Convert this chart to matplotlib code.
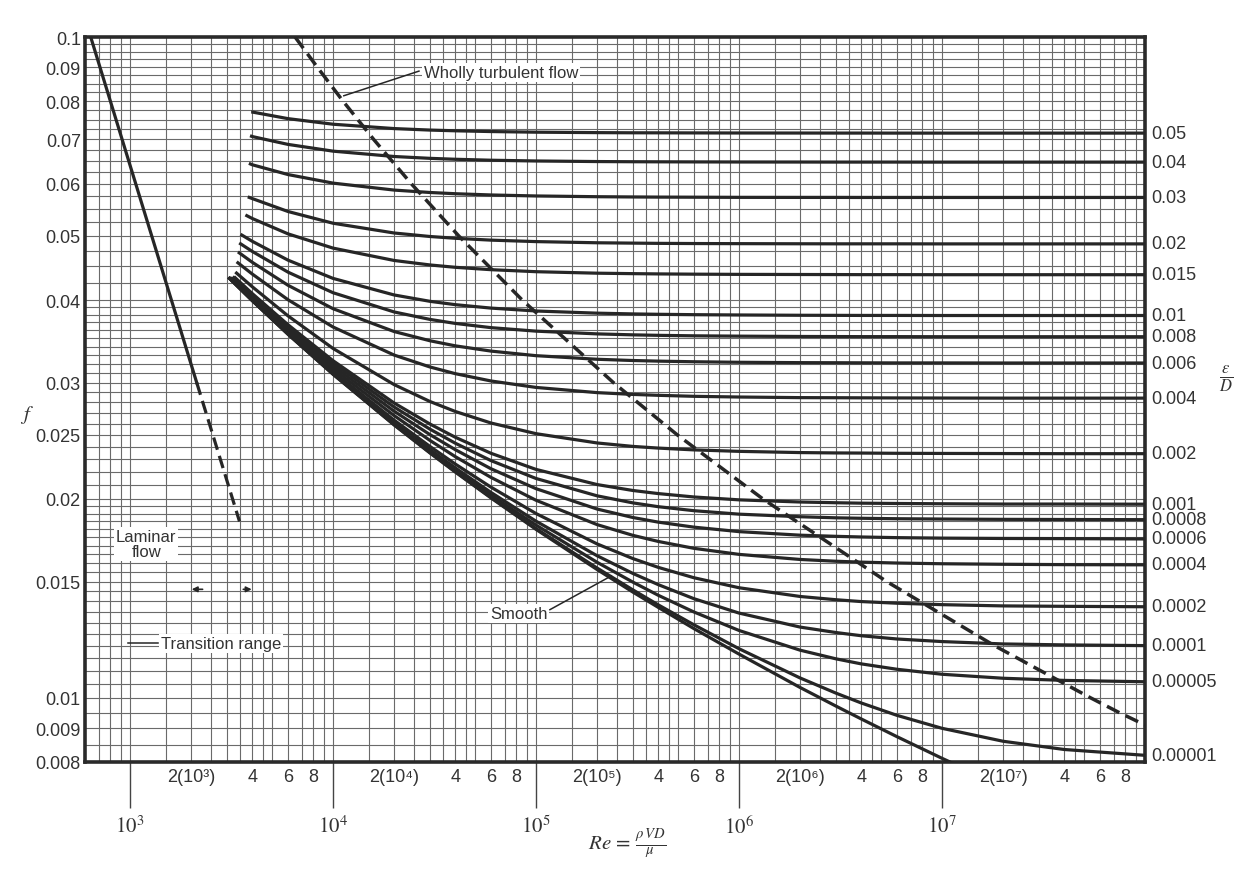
import matplotlib
matplotlib.use("Agg")
import matplotlib.pyplot as plt
import matplotlib.transforms as mtransforms
from matplotlib.ticker import FixedLocator, FixedFormatter, NullLocator

plt.rcParams['font.family'] = ['Liberation Sans', 'DejaVu Sans']
plt.rcParams['mathtext.fontset'] = 'stix'

# ----------------------------------------
# Values
# ----------------------------------------
rough_labels = ['0.05', '0.04', '0.03', '0.02', '0.015', '0.01', '0.008', '0.006',
                '0.004', '0.002', '0.001', '0.0008', '0.0006', '0.0004', '0.0002',
                '0.0001', '0.00005', '0.00001', 'smooth']

# where each curve starts (left end)
re_start = [3950, 3900, 3850, 3800, 3700, 3500, 3450, 3400, 3350, 3300, 3250,
            3200, 3200, 3150, 3100, 3100, 3050, 3050, 3050]
f_start = [0.0770, 0.0709, 0.0644, 0.0573, 0.0538, 0.0503, 0.0488, 0.0473, 0.0457,
           0.0441, 0.0434, 0.0434, 0.0432, 0.0432, 0.0433, 0.0432, 0.0433, 0.0433, 0.0433]

re_grid = [4e3, 6e3, 1e4, 2e4, 3e4, 4e4, 6e4, 1e5, 2e5, 3e5, 4e5, 6e5,
           1e6, 2e6, 3e6, 4e6, 6e6, 1e7, 2e7, 4e7, 1e8]

f_0_05 = [0.0770, 0.07525, 0.0738, 0.07269, 0.07231, 0.07213, 0.07194, 0.07178, 0.07167, 0.07163, 0.07162,
          0.0716, 0.07158, 0.07157, 0.07156, 0.07156, 0.07155, 0.07155, 0.07155, 0.07155, 0.07155]
f_0_04 = [0.0707, 0.06879, 0.06719, 0.06595, 0.06553, 0.06532, 0.0651, 0.06493, 0.0648, 0.06476, 0.06474,
          0.06472, 0.0647, 0.06469, 0.06468, 0.06468, 0.06468, 0.06467, 0.06467, 0.06467, 0.06467]
f_0_03 = [0.06408, 0.06193, 0.06011, 0.05867, 0.05818, 0.05793, 0.05768, 0.05748, 0.05733, 0.05728, 0.05725,
          0.05723, 0.0572, 0.05719, 0.05719, 0.05718, 0.05718, 0.05718, 0.05718, 0.05718, 0.05718]
f_0_02 = [0.05696, 0.05445, 0.05227, 0.05052, 0.04991, 0.0496, 0.04928, 0.04903, 0.04883, 0.04877, 0.04873,
          0.0487, 0.04868, 0.04866, 0.04865, 0.04865, 0.04865, 0.04864, 0.04864, 0.04864, 0.04864]
f_0_015 = [0.05314, 0.05037, 0.04793, 0.04591, 0.0452, 0.04483, 0.04446, 0.04415, 0.04392, 0.04385, 0.04381,
           0.04377, 0.04374, 0.04372, 0.04371, 0.0437, 0.0437, 0.04369, 0.04369, 0.04369, 0.04369]
f_0_01 = [0.04908, 0.04596, 0.04313, 0.04071, 0.03982, 0.03936, 0.03889, 0.0385, 0.03821, 0.03811, 0.03806,
          0.03801, 0.03797, 0.03793, 0.03792, 0.03791, 0.03791, 0.0379, 0.0379, 0.0379, 0.0379]
f_0_008 = [0.04738, 0.04408, 0.04103, 0.03837, 0.03739, 0.03687, 0.03633, 0.03589, 0.03555, 0.03543, 0.03537,
           0.03531, 0.03527, 0.03523, 0.03522, 0.03521, 0.03521, 0.0352, 0.0352, 0.0352, 0.0352]
f_0_006 = [0.04562, 0.04211, 0.03881, 0.03584, 0.03471, 0.0341, 0.03348, 0.03295, 0.03254, 0.0324, 0.03233,
           0.03226, 0.0322, 0.03216, 0.03215, 0.03214, 0.03213, 0.03213, 0.03212, 0.03212, 0.03212]
f_0_004 = [0.04379, 0.04004, 0.03641, 0.03302, 0.03168, 0.03095, 0.03017, 0.0295, 0.02897, 0.02879, 0.0287,
           0.0286, 0.02853, 0.02847, 0.02846, 0.02845, 0.02844, 0.02843, 0.02842, 0.02842, 0.02842]
f_0_002 = [0.04189, 0.03785, 0.03379, 0.02979, 0.02809, 0.02713, 0.02606, 0.02511, 0.02431, 0.02402, 0.02388,
           0.02373, 0.02361, 0.02351, 0.02348, 0.02347, 0.02345, 0.02344, 0.02343, 0.02342, 0.02342]
f_0_001 = [0.04091, 0.0367, 0.03238, 0.02794, 0.02597, 0.0248, 0.02345, 0.02217, 0.02103, 0.0206, 0.02038,
           0.02014, 0.01994, 0.01979, 0.01974, 0.01971, 0.01969, 0.01967, 0.01965, 0.01965, 0.01964]
f_0_0008 = [0.04071, 0.03646, 0.03209, 0.02755, 0.02551, 0.02429, 0.02286, 0.02148, 0.02022, 0.01973, 0.01947,
            0.0192, 0.01897, 0.0188, 0.01873, 0.0187, 0.01867, 0.01865, 0.01863, 0.01862, 0.01861]
f_0_0006 = [0.04051, 0.03622, 0.03179, 0.02715, 0.02503, 0.02375, 0.02222, 0.02073, 0.01931, 0.01875, 0.01845,
            0.01813, 0.01785, 0.01763, 0.01756, 0.01752, 0.01748, 0.01745, 0.01743, 0.01742, 0.0174]
f_0_0004 = [0.04031, 0.03599, 0.03149, 0.02674, 0.02453, 0.02318, 0.02156, 0.01991, 0.01829, 0.01762, 0.01725,
            0.01684, 0.01649, 0.0162, 0.0161, 0.01605, 0.016, 0.01596, 0.01593, 0.01591, 0.0159]
f_0_0002 = [0.04011, 0.03575, 0.03119, 0.02632, 0.02402, 0.02259, 0.02084, 0.01901, 0.0171, 0.01625, 0.01576,
            0.0152, 0.01468, 0.01424, 0.01408, 0.01399, 0.01391, 0.01384, 0.01378, 0.01376, 0.01374]
f_0_0001 = [0.04001, 0.03563, 0.03104, 0.0261, 0.02376, 0.02229, 0.02046, 0.01851, 0.01641, 0.01543, 0.01484,
            0.01413, 0.01344, 0.0128, 0.01256, 0.01242, 0.01228, 0.01217, 0.01207, 0.01203, 0.012]
f_0_00005 = [0.03996, 0.03557, 0.03096, 0.02599, 0.02362, 0.02213, 0.02026, 0.01826, 0.01604, 0.01497, 0.0143,
             0.01349, 0.01265, 0.01181, 0.01146, 0.01126, 0.01105, 0.01086, 0.01071, 0.01063, 0.01058]
f_0_00001 = [0.03992, 0.03552, 0.0309, 0.02591, 0.02351, 0.022, 0.02011, 0.01804, 0.01572, 0.01457, 0.01383,
             0.0129, 0.01187, 0.01072, 0.01017, 0.009826, 0.009411, 0.008996, 0.008599, 0.008356, 0.008188]
f_smooth = [0.03991, 0.0355, 0.03088, 0.02588, 0.02348, 0.02197, 0.02007, 0.01799, 0.01564, 0.01446, 0.01371,
            0.01273, 0.01165, 0.01037, 0.009721, 0.009294, 0.008737, 0.008103, 0.007344, 0.00668, 0.00594]

curves_f = [f_0_05, f_0_04, f_0_03, f_0_02, f_0_015, f_0_01, f_0_008, f_0_006,
            f_0_004, f_0_002, f_0_001, f_0_0008, f_0_0006, f_0_0004, f_0_0002,
            f_0_0001, f_0_00005, f_0_00001, f_smooth]

# laminar line (solid part, then dashed part)
laminar_re = [640, 2130]
laminar_f = [0.1, 0.03]
laminar_dash_re = [2130, 3460]
laminar_dash_f = [0.03, 0.0185]

# wholly turbulent boundary (dashed)
turb_re = [6.5e3, 8.37e3, 1.119e4, 1.585e4, 2.427e4, 4.164e4, 8.55e4, 2.405e5,
           4.968e5, 1.3115e6, 5.337e6, 1.81e7, 5.405e7, 7.475e7, 1.0e8]
turb_f = [0.1, 0.09, 0.08, 0.07, 0.06, 0.05, 0.04, 0.03, 0.025, 0.02, 0.015,
          0.012, 0.01, 0.0095, 0.0091]

# axis ticks
f_ticks = [0.1, 0.09, 0.08, 0.07, 0.06, 0.05, 0.04, 0.03, 0.025, 0.02, 0.015, 0.01, 0.009, 0.008]
f_tick_labels = ['0.1', '0.09', '0.08', '0.07', '0.06', '0.05', '0.04', '0.03', '0.025',
                 '0.02', '0.015', '0.01', '0.009', '0.008']
decades = [3, 4, 5, 6, 7]
sup_digits = {3: '\u00b3', 4: '\u2074', 5: '\u2075', 6: '\u2076', 7: '\u2077'}

line_color = '#262626'
grid_color = '#6a6a6a'

# ----------------------------------------
# Figure
# ----------------------------------------
fig = plt.figure(figsize=(12.54, 8.70), dpi=100)
ax = fig.add_axes([0.0678, 0.123, 0.8453, 0.8333])
ax.set_xscale('log')
ax.set_yscale('log')
ax.set_xlim(600, 1e8)
ax.set_ylim(0.008, 0.1)

# chart-paper grid
grid_x = []
for d in range(2, 8):
    for m in [1, 1.5, 2, 2.5, 3, 3.5, 4, 4.5, 5, 6, 7, 8, 9]:
        v = m * 10 ** d
        if 600 < v < 1e8:
            grid_x.append(v)
grid_y = []
v = 0.0085
while v < 0.0199:
    grid_y.append(v)
    v += 0.0005
v = 0.02
while v < 0.0399:
    grid_y.append(v)
    v += 0.001
v = 0.04
while v < 0.0999:
    grid_y.append(v)
    v += 0.0025
ax.vlines(grid_x, 0.008, 0.1, color=grid_color, lw=0.8, zorder=0)
ax.hlines(grid_y, 600, 1e8, color=grid_color, lw=0.8, zorder=0)

# friction curves
for lab, rs, fs, fv in zip(rough_labels, re_start, f_start, curves_f):
    xs = [rs] + [r for r in re_grid if r > rs]
    ys = [fs] + [f for r, f in zip(re_grid, fv) if r > rs]
    ax.plot(xs, ys, color=line_color, lw=2.3, solid_capstyle='butt',
            solid_joinstyle='round', zorder=3)

# laminar
ax.plot(laminar_re, laminar_f, color=line_color, lw=2.3, zorder=3)
ax.plot(laminar_dash_re, laminar_dash_f, color=line_color, lw=2.3,
        dashes=(4, 2), zorder=3)

# wholly turbulent boundary
ax.plot(turb_re, turb_f, color=line_color, lw=2.5, dashes=(4, 2), zorder=3)

# right-hand epsilon/D labels
trans = mtransforms.blended_transform_factory(ax.transAxes, ax.transData)
for lab, fv in zip(rough_labels[:-1], curves_f[:-1]):
    ax.text(1.006, fv[-1], lab, transform=trans, ha='left', va='center',
            fontsize=13, color='#333333')
fig.text(0.978, 0.565, r'$\frac{\epsilon}{D}$', fontsize=17, ha='center', va='center',
         color='#333333')

# annotations
box = dict(facecolor='white', edgecolor='none', pad=1.5)
ax.text(2.8e4, 0.0885, 'Wholly turbulent flow', ha='left', va='center', fontsize=12,
        color='#333333', bbox=box, zorder=4)
ax.plot([2.65e4, 1.13e4], [0.0888, 0.0815], color=line_color, lw=1.1, zorder=4)

ax.text(8.2e4, 0.0134, 'Smooth', ha='center', va='center', fontsize=12,
        color='#333333', bbox=box, zorder=4)
ax.plot([1.17e5, 2.35e5], [0.0136, 0.0153], color=line_color, lw=1.1, zorder=4)

ax.text(1.2e3, 0.0171, 'Laminar\nflow', ha='center', va='center', fontsize=12,
        color='#333333', bbox=box, zorder=4, linespacing=1.0)

ax.text(1.42e3, 0.0121, 'Transition range', ha='left', va='center', fontsize=12,
        color='#333333', bbox=box, zorder=4)
ax.plot([980, 1380], [0.0121, 0.0121], color=line_color, lw=1.1, zorder=4)
ax.annotate('', xy=(1950, 0.0146), xytext=(2350, 0.0146),
            arrowprops=dict(arrowstyle='-|>', lw=1.2, color=line_color,
                            mutation_scale=8), zorder=4)
ax.annotate('', xy=(4100, 0.0146), xytext=(3500, 0.0146),
            arrowprops=dict(arrowstyle='-|>', lw=1.2, color=line_color,
                            mutation_scale=8), zorder=4)

# ticks
ax.yaxis.set_major_locator(FixedLocator(f_ticks))
ax.yaxis.set_major_formatter(FixedFormatter(f_tick_labels))
ax.yaxis.set_minor_locator(NullLocator())
ax.tick_params(axis='y', which='major', length=0, pad=3, labelsize=13,
               labelcolor='#333333')

ax.xaxis.set_major_locator(FixedLocator([10.0 ** d for d in decades]))
ax.xaxis.set_major_formatter(FixedFormatter([r'$10^{%d}$' % d for d in decades]))
minor_x, minor_lab = [], []
for d in decades:
    for m in [2, 4, 6, 8]:
        minor_x.append(m * 10.0 ** d)
        minor_lab.append('2(10' + sup_digits[d] + ')' if m == 2 else str(m))
ax.xaxis.set_minor_locator(FixedLocator(minor_x))
ax.xaxis.set_minor_formatter(FixedFormatter(minor_lab))
ax.tick_params(axis='x', which='major', length=33, width=1.0, pad=5, labelsize=15,
               direction='out', color='#444444', labelcolor='#333333')
ax.tick_params(axis='x', which='minor', length=0, pad=4, labelsize=13,
               labelcolor='#333333')

for s in ax.spines.values():
    s.set_linewidth(2.6)
    s.set_color('#2a2a2a')

ax.set_ylabel(r'$f$', rotation=0, fontsize=15, color='#333333')
ax.yaxis.set_label_coords(-0.055, 0.465)

fig.text(0.5, 0.03, r'$Re\, =\, \frac{\rho\, V D}{\mu}$', fontsize=15,
         ha='center', va='center', color='#333333')

fig.savefig('out.png', dpi=100)
